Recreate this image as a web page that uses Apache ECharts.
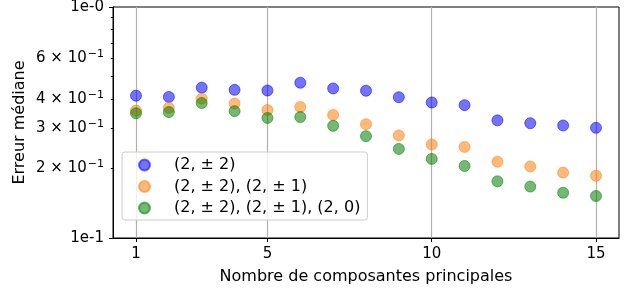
<!DOCTYPE html>
<html>
<head>
<meta charset="utf-8">
<script src="https://cdn.jsdelivr.net/npm/echarts@6/dist/echarts.min.js"></script>
<style>html,body{margin:0;padding:0;background:#fff}#c{width:628px;height:295px}</style>
</head>
<body>
<div id="c"></div>
<script>
const xValues = [1,2,3,4,5,6,7,8,9,10,11,12,13,14,15];
const seriesNames = ['(2, ± 2)', '(2, ± 2), (2, ± 1)', '(2, ± 2), (2, ± 1), (2, 0)'];
const s1 = [0.413,0.408,0.448,0.438,0.435,0.470,0.444,0.434,0.407,0.386,0.376,0.323,0.314,0.307,0.300];
const s2 = [0.356,0.366,0.401,0.382,0.358,0.369,0.341,0.311,0.278,0.254,0.248,0.214,0.204,0.192,0.186];
const s3 = [0.347,0.351,0.384,0.354,0.331,0.334,0.306,0.276,0.243,0.220,0.205,0.176,0.167,0.157,0.152];
const xTicks = [1,5,10,15];
const yLabelTicks = [0.1,0.2,0.3,0.4,0.6,1];
const yMajorTicks = [0.1,1];
const yMinorTicks = [0.2,0.3,0.4,0.5,0.6,0.7,0.8,0.9];
const colors = ['#0000ff','#ff7f0e','#008000'];
const FONT = 'DejaVu Sans';
const FS = 16;
const TS = 15;

function pairs(vals){ return xValues.map((x,i)=>[x, vals[i]]); }
const allData = [s1,s2,s3];

const chart = echarts.init(document.getElementById('c'), null, {renderer:'canvas'});
chart.setOption({
  animation:false,
  grid:{left:113, right:9, top:7, bottom:57, show:true, borderColor:'#000', borderWidth:1, backgroundColor:'transparent', containLabel:false, outerBoundsMode:'none'},
  xAxis:{
    type:'value', min:0.3, max:15.7,
    name:'Nombre de composantes principales', nameLocation:'middle', nameGap:31, nameMoveOverlap:false,
    nameTextStyle:{fontFamily:FONT, fontSize:FS, color:'#000'},
    axisLine:{show:true, onZero:false, lineStyle:{color:'#000', width:1}},
    axisTick:{show:true, length:4, customValues:xTicks, lineStyle:{color:'#000'}},
    axisLabel:{customValues:xTicks, fontFamily:FONT, fontSize:TS, color:'#000', margin:9},
    splitLine:{show:true, lineStyle:{color:'#b0b0b0', width:1.2}}
  },
  yAxis:[{
    type:'log', logBase:10, min:0.1, max:1,
    name:'Erreur médiane', nameLocation:'middle', nameGap:85, nameMoveOverlap:false,
    nameTextStyle:{fontFamily:FONT, fontSize:FS, color:'#000'},
    axisLine:{show:true, lineStyle:{color:'#000', width:1}},
    axisTick:{show:true, length:4, customValues:yMajorTicks, lineStyle:{color:'#000'}},
    axisLabel:{
      customValues:yLabelTicks, fontFamily:FONT, fontSize:TS, color:'#000', margin:9,
      formatter:function(v){
        const r = Math.round(v*10);
        if (r===10) return '1e-0';
        if (r===1) return '1e-1';
        return '{m|' + r + ' × 10}{s|−1}';
      },
      rich:{
        m:{fontFamily:FONT, fontSize:TS, color:'#000', lineHeight:19},
        s:{fontFamily:FONT, fontSize:11, color:'#000', verticalAlign:'top', lineHeight:19, padding:[0,0,7,1]}
      }
    },
    splitLine:{show:false}
  },{
    type:'log', logBase:10, min:0.1, max:1, position:'left',
    axisLine:{show:false},
    axisTick:{show:true, length:2.2, customValues:yMinorTicks, lineStyle:{color:'#000'}},
    axisLabel:{show:false},
    splitLine:{show:false}
  }],
  legend:{
    orient:'vertical', left:122, top:152,
    data:seriesNames,
    icon:'circle', itemWidth:11, itemHeight:11, itemGap:5.5,
    padding:[5,7,4,16],
    backgroundColor:'rgba(255,255,255,0.8)', borderColor:'#cccccc', borderWidth:1, borderRadius:3,
    textStyle:{fontFamily:FONT, fontSize:FS, color:'#000', padding:[0,0,0,19], height:18}
  },
  series: allData.map((d,i)=>({
    name:seriesNames[i], type:'scatter', yAxisIndex:0,
    data:pairs(d), symbol:'circle', symbolSize:11,
    itemStyle:{color:colors[i], borderColor:colors[i], borderWidth:1, opacity:0.55}
  }))
});
</script>
</body>
</html>
